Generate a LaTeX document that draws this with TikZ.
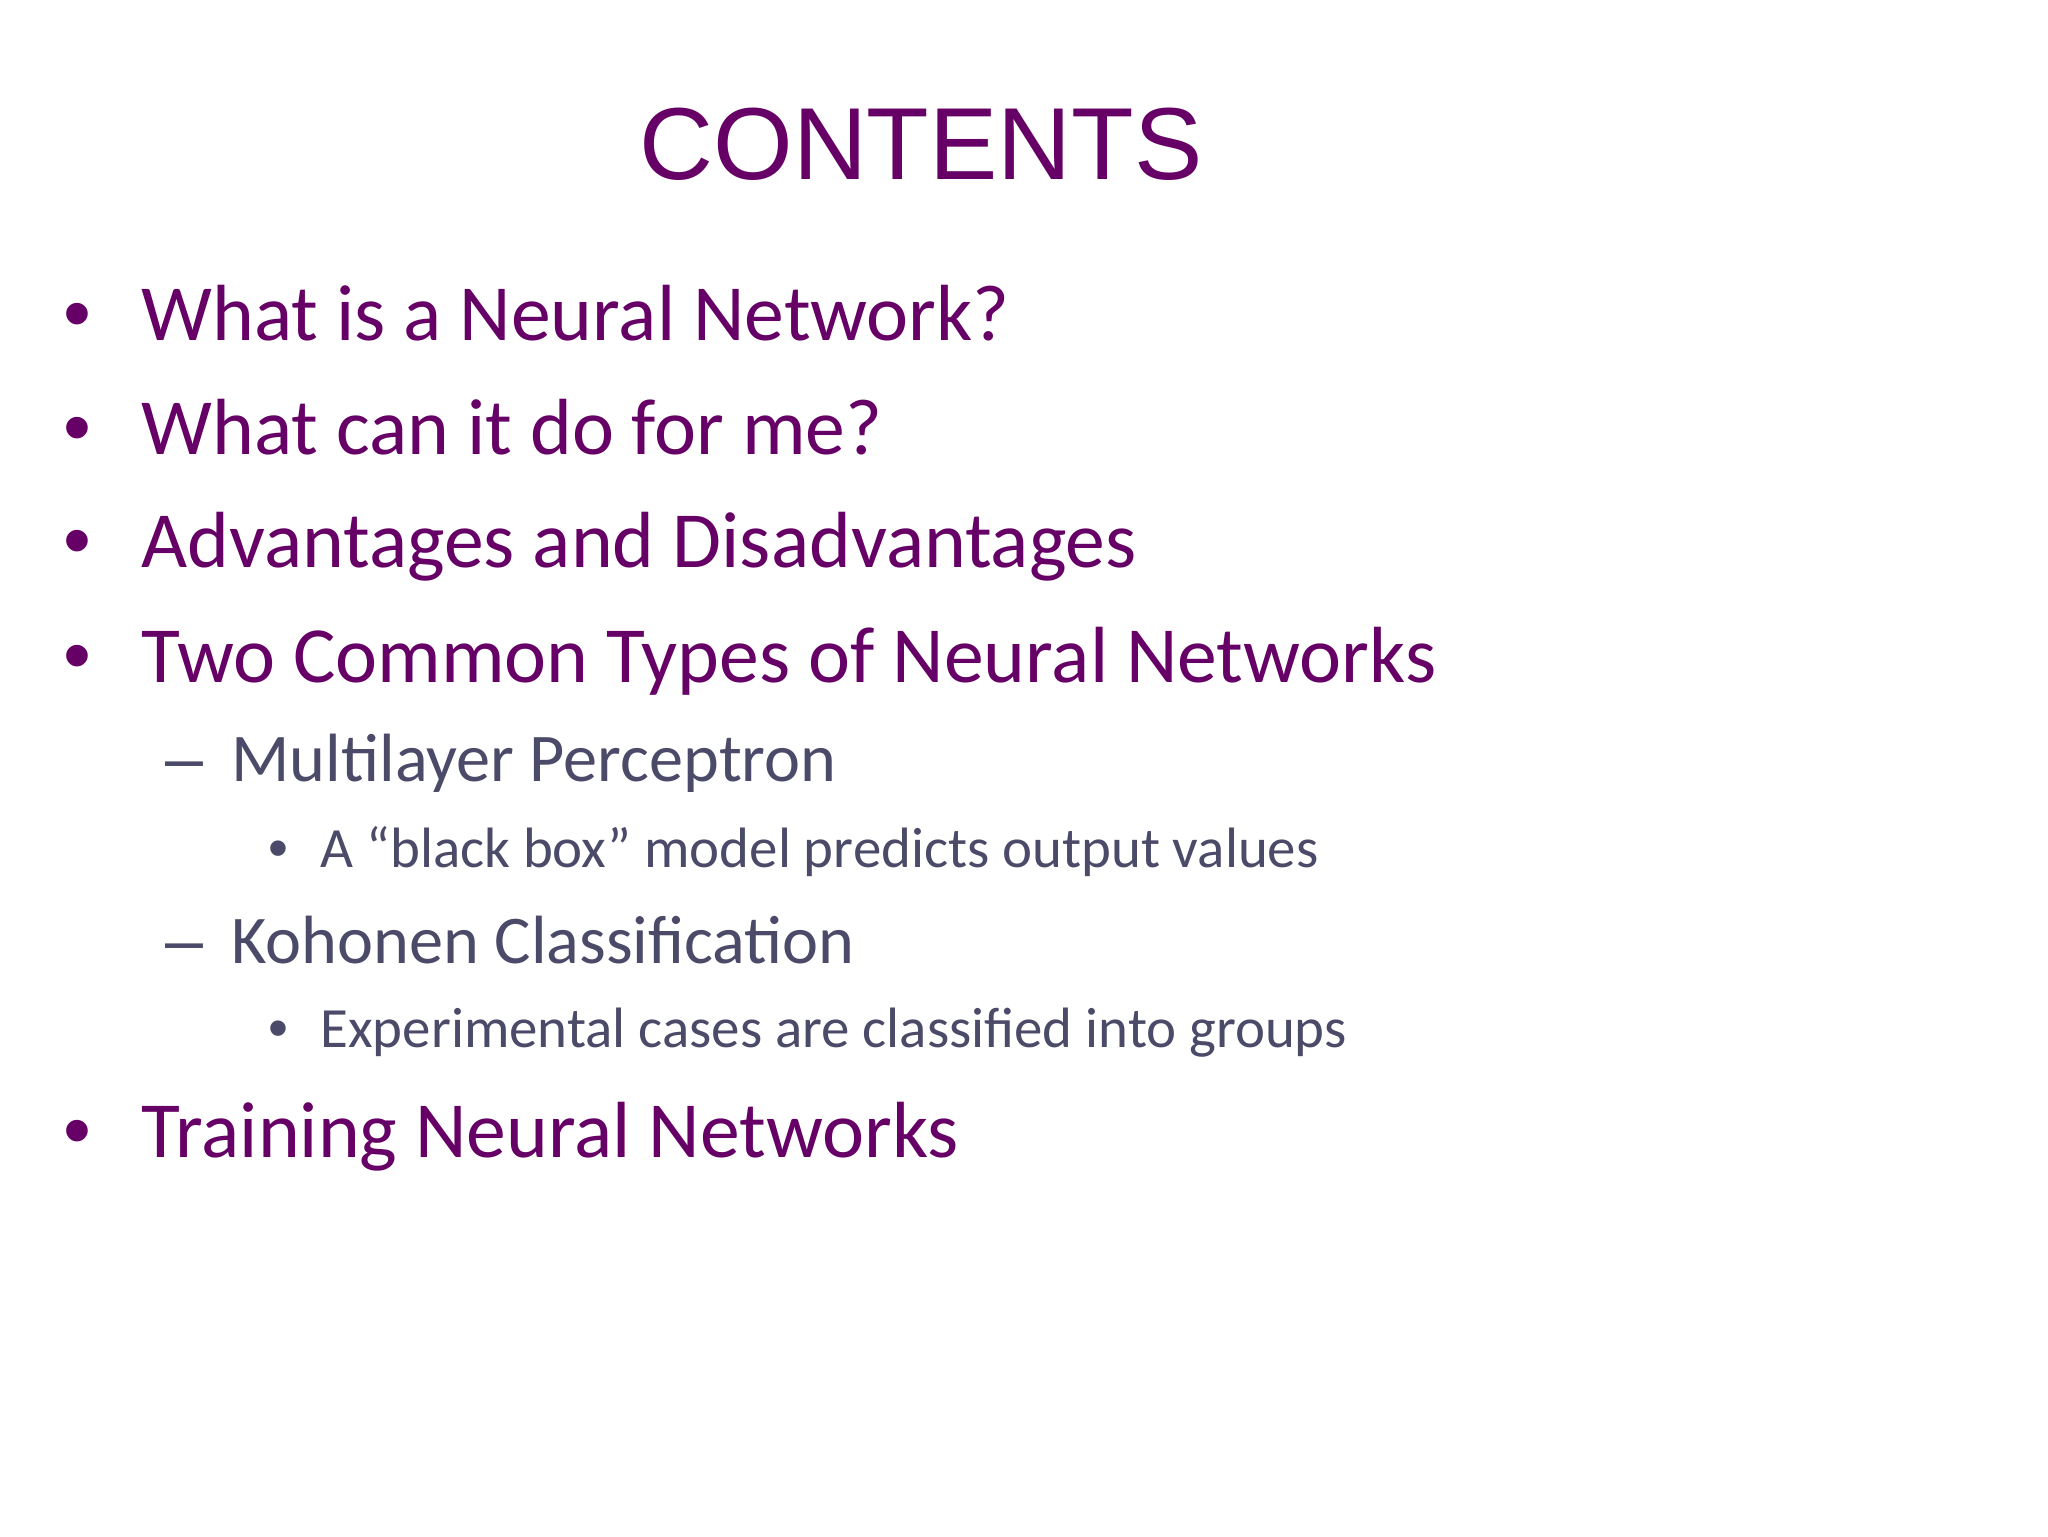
\documentclass[tikz,border=0pt]{standalone}
\usepackage{fontspec}
\setmainfont{Carlito}
\newfontfamily\arialf{Liberation Sans}
\definecolor{titlepurple}{RGB}{102,0,102}
\definecolor{subgray}{RGB}{75,74,105}
\tikzset{
  lvlone/.style={anchor=base west, inner sep=0pt, text=titlepurple, font=\fontsize{28}{34}\selectfont},
  lvltwo/.style={anchor=base west, inner sep=0pt, text=subgray, font=\fontsize{24}{29}\selectfont},
  lvlthree/.style={anchor=base west, inner sep=0pt, text=subgray, font=\fontsize{20}{24}\selectfont},
  bulone/.style={anchor=base, inner sep=0pt, text=titlepurple, font=\arialf\fontsize{28}{34}\selectfont},
  dashtwo/.style={anchor=base, inner sep=0pt, text=subgray, font=\arialf\fontsize{24}{29}\selectfont},
  bulthree/.style={anchor=base, inner sep=0pt, text=subgray, font=\arialf\fontsize{20}{24}\selectfont},
  titlestyle/.style={anchor=base, inner sep=0pt, text=titlepurple, font=\arialf\fontsize{36}{43}\selectfont}
}
\begin{document}
\begin{tikzpicture}[x=0.3516pt,y=-0.3516pt]
\useasboundingbox[fill=white] (0,0) rectangle (2048,1536);
\node[titlestyle] (title) at (921,179) {CONTENTS};
% level 1
\node[bulone] (b1) at (77,340) {•};
\node[lvlone] (t1) at (141,340) {What is a Neural Network?};
\node[bulone] (b2) at (77,454) {•};
\node[lvlone] (t2) at (141,454) {What can it do for me?};
\node[bulone] (b3) at (77,567) {•};
\node[lvlone] (t3) at (141,567) {Advantages and Disadvantages};
\node[bulone] (b4) at (77,682) {•};
\node[lvlone] (t4) at (141,682) {Two Common Types of Neural Networks};
% level 2
\node[dashtwo] (d1) at (184,781) {–};
\node[lvltwo] (s1) at (231,781) {Multilayer Perceptron};
\node[bulthree] (c1) at (278,867) {•};
\node[lvlthree] (u1) at (320,867) {A “black box” model predicts output values};
\node[dashtwo] (d2) at (184,963) {–};
\node[lvltwo] (s2) at (231,963) {Kohonen Classification};
\node[bulthree] (c2) at (278,1047) {•};
\node[lvlthree] (u2) at (320,1047) {Experimental cases are classified into groups};
% last level 1
\node[bulone] (b5) at (77,1157) {•};
\node[lvlone] (t5) at (141,1157) {Training Neural Networks};
\end{tikzpicture}
\end{document}
